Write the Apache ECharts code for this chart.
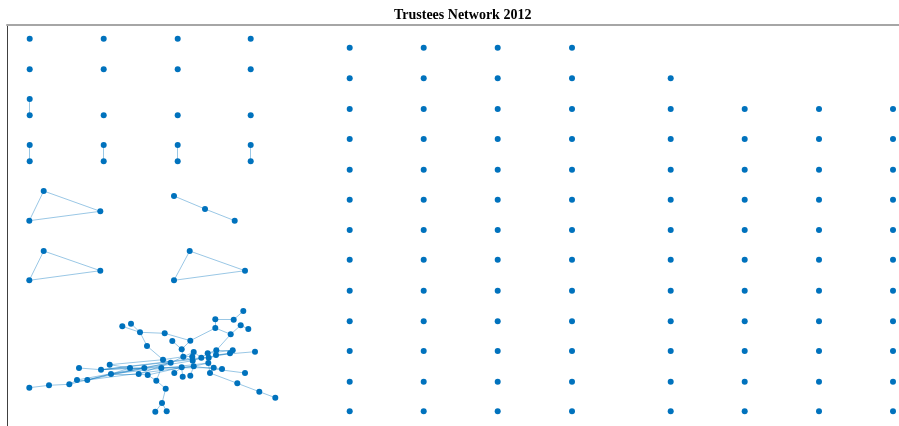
<!DOCTYPE html>
<html>
<head>
<meta charset="utf-8">
<script src="https://cdn.jsdelivr.net/npm/echarts@6/dist/echarts.min.js"></script>
<style>
html, body { margin: 0; padding: 0; background: #fff; }
#chart { width: 899px; height: 426px; }
</style>
</head>
<body>
<div id="chart"></div>
<script>
// layout coordinates of the big connected component
var clusterX = [29.3, 49, 69.3, 77, 87.3, 79, 101, 109.7, 111, 122.3,
	131, 140, 147, 164.7, 130, 144.3, 138.7, 147.7, 156.3, 165.7,
	162, 155.3, 166.7, 161.3, 163, 170.7, 172.3, 190.3, 181.7, 174.3,
	182.7, 190.3, 181.7, 183.3, 192.3, 193.7, 192.7, 193.7, 201.3, 207.7,
	208.7, 208.3, 210, 213.7, 222, 216.3, 216, 215.3, 215.3, 230.7,
	233.7, 243.3, 240.7, 248.3, 230, 232.7, 255, 245, 237.3, 259.3, 275.3];
var clusterY = [387.7, 385.3, 384.3, 380, 380, 368, 369.7, 364.7, 374, 326.3,
	323.7, 332.3, 346, 333.3, 368, 368, 374, 375, 380.7, 388.7,
	403, 411.7, 411.3, 368, 359.7, 362.7, 341, 340.7, 349.3, 373,
	376.7, 375.7, 367.3, 356.7, 356.7, 352, 360.7, 366.3, 357.7, 353.3,
	357.7, 363, 373, 367.7, 369, 350.3, 355, 328, 319.3, 334.3,
	319.7, 311, 325.3, 329, 353.3, 350.3, 351.7, 373, 383.3, 391.7, 397.7];
var clusterEdges = [[0,1],[1,2],[2,3],[2,8],[3,4],[4,8],[8,16],[8,14],[5,6],[6,15],
	[6,14],[7,14],[14,15],[15,25],[16,17],[17,32],[16,25],[9,11],[10,11],[11,13],
	[11,12],[12,24],[13,27],[26,28],[27,28],[27,47],[47,48],[48,50],[50,51],[47,49],
	[49,52],[52,53],[49,45],[28,33],[24,33],[23,32],[17,18],[18,19],[19,20],[20,21],
	[20,22],[29,32],[30,32],[31,37],[32,37],[33,34],[34,35],[35,38],[36,38],[36,37],
	[37,41],[38,39],[38,40],[39,45],[40,46],[41,43],[42,43],[43,44],[41,42],[46,54],
	[45,55],[46,56],[37,57],[42,58],[58,59],[59,60],[6,38],[8,41],[3,25],[4,37],
	[4,15],[7,24],[8,36],[14,43],[6,40],[25,35],[24,25],[33,36],[40,54],[39,55],[18,23]];

// pairs, triangles and the short path
var smallX = [29.7, 29.7, 29.7, 29.7, 103.7, 103.7, 177.7, 177.7, 250.7, 250.7,
	43.7, 100.3, 29.3, 174, 205, 234.7, 43.7, 100.3, 29.3, 189.7, 245, 174];
var smallY = [99, 115.3, 145, 161.3, 145, 161.3, 145, 161.3, 145, 161.3,
	191, 211.3, 220.7, 196, 209, 220.7, 251, 270.7, 280.3, 251, 270.7, 280.3];
var smallEdges = [[0,1],[2,3],[4,5],[6,7],[8,9],
	[10,11],[11,12],[12,10],[13,14],[14,15],
	[16,17],[17,18],[18,16],[19,20],[20,21],[21,19]];

// isolated nodes
var leftIsoX = [29.7, 103.7, 177.7, 250.7, 29.7, 103.7, 177.7, 250.7, 103.7, 177.7, 250.7];
var leftIsoY = [38.7, 38.7, 38.7, 38.7, 69.3, 69.3, 69.3, 69.3, 115.3, 115.3, 115.3];
var gridRows = [47.7, 78.3, 109, 139, 169.7, 199.7, 230, 259.7, 290.7, 321.3, 351, 381.7, 411.3];
var gridCols = [349.7, 423.7, 497.7, 572, 670.7, 744.7, 819, 893];
var gridFirstRow = [0, 0, 0, 0, 1, 2, 2, 2];

var nodes = [];
var links = [];
function addPart(xs, ys, edges) {
	var base = nodes.length;
	for (var i = 0; i < xs.length; i++) {
		nodes.push([xs[i], ys[i]]);
	}
	for (var k = 0; k < edges.length; k++) {
		links.push({ source: base + edges[k][0], target: base + edges[k][1] });
	}
}
addPart(clusterX, clusterY, clusterEdges);
addPart(smallX, smallY, smallEdges);
addPart(leftIsoX, leftIsoY, []);
for (var c = 0; c < gridCols.length; c++) {
	for (var r = gridFirstRow[c]; r < gridRows.length; r++) {
		nodes.push([gridCols[c], gridRows[r]]);
	}
}

var chart = echarts.init(document.getElementById('chart'));
var option = {
	animation: false,
	title: {
		text: 'Trustees Network 2012',
		left: 389,
		top: 3,
		textStyle: { fontFamily: 'Liberation Serif', fontWeight: 'bold', fontSize: 14, color: '#000' }
	},
	grid: { left: 7, top: 25, right: 0, bottom: 0 },
	xAxis: {
		type: 'value', position: 'top', min: 7, max: 899,
		axisLine: { show: true, onZero: false, lineStyle: { color: '#a6a6a6', width: 2 } },
		axisTick: { show: false }, axisLabel: { show: false }, splitLine: { show: false }
	},
	yAxis: {
		type: 'value', inverse: true, min: 25, max: 426,
		axisLine: { show: true, onZero: false, lineStyle: { color: '#404040', width: 1 } },
		axisTick: { show: false }, axisLabel: { show: false }, splitLine: { show: false }
	},
	series: [{
		type: 'graph',
		coordinateSystem: 'cartesian2d',
		layout: 'none',
		silent: true,
		symbol: 'circle',
		symbolSize: 6,
		itemStyle: { color: '#0072BD' },
		lineStyle: { color: '#0072BD', opacity: 0.4, width: 1 },
		data: nodes,
		links: links,
		z: 3
	}]
};
chart.setOption(option);
</script>
</body>
</html>
